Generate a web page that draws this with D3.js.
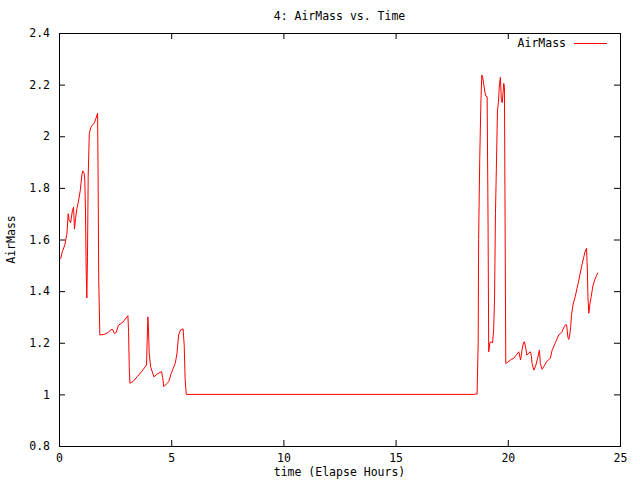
<!DOCTYPE html>
<html>
<head>
<meta charset="utf-8">
<script src="https://d3js.org/d3.v7.min.js"></script>
<style>
  body { margin: 0; background: #fff; }
  svg { font-family: "DejaVu Sans Mono", monospace; font-size: 11.5px; }
  .frame { fill: none; stroke: #000; stroke-width: 1; }
  .line { fill: none; stroke: #ff0000; stroke-width: 1; }
</style>
</head>
<body>
<div id="chart"></div>
<script>
// elapsed hours
var times = [
  0.07, 0.15, 0.26, 0.35, 0.41, 0.45, 0.52, 0.60, 0.65, 0.69, 0.74, 0.80, 0.88, 0.95,
  1.02, 1.06, 1.12, 1.15, 1.18, 1.21, 1.24, 1.27, 1.30, 1.35, 1.42, 1.58, 1.65, 1.72,
  1.74, 1.77, 1.82, 2.00, 2.20, 2.30, 2.38, 2.47, 2.55, 2.65, 2.85, 3.07, 3.10, 3.13,
  3.16, 3.30, 3.50, 3.70, 3.90, 3.93, 3.96, 3.99, 4.02, 4.08, 4.23, 4.40, 4.50, 4.57,
  4.62, 4.67, 4.78, 4.89, 5.00, 5.18, 5.26, 5.33, 5.41, 5.53, 5.58, 5.62, 5.67,
  18.53, 18.58, 18.63, 18.68, 18.70, 18.75, 18.80, 18.84, 18.88, 18.93, 18.98, 19.03,
  19.08, 19.12, 19.15, 19.20, 19.26, 19.32, 19.37, 19.41, 19.45, 19.50, 19.54, 19.58,
  19.63, 19.67, 19.71, 19.75, 19.78, 19.82, 19.85, 19.88, 19.91, 20.00, 20.15, 20.27,
  20.40, 20.49, 20.57, 20.63, 20.70, 20.74, 20.80, 20.85, 20.94, 21.01, 21.05, 21.08,
  21.16, 21.24, 21.33, 21.41, 21.45, 21.53, 21.62, 21.72, 21.82, 21.90, 21.97, 22.12,
  22.27, 22.42, 22.50, 22.57, 22.62, 22.68, 22.72, 22.76, 22.80, 22.84, 22.91, 23.01,
  23.08, 23.16, 23.23, 23.30, 23.38, 23.45, 23.51, 23.55, 23.57, 23.61, 23.66, 23.72,
  23.79, 23.88, 23.95, 24.01
];
var airMass = [
  1.525, 1.553, 1.579, 1.62, 1.70, 1.675, 1.665, 1.714, 1.725, 1.64, 1.682, 1.72, 1.753, 1.792,
  1.85, 1.866, 1.856, 1.83, 1.71, 1.49, 1.373, 1.533, 1.843, 2.01, 2.035, 2.053, 2.07, 2.09,
  1.88, 1.443, 1.23, 1.232, 1.24, 1.25, 1.252, 1.236, 1.24, 1.268, 1.28, 1.305, 1.243, 1.107,
  1.043, 1.05, 1.07, 1.09, 1.114, 1.21, 1.30, 1.25, 1.16, 1.107, 1.068, 1.08, 1.085, 1.088,
  1.065, 1.030, 1.04, 1.049, 1.081, 1.12, 1.16, 1.23, 1.249, 1.254, 1.19, 1.06, 1.0,
  1.0, 1.003, 1.0, 1.198, 1.60, 1.915, 2.128, 2.237, 2.23, 2.20, 2.17, 2.155,
  2.153, 1.664, 1.165, 1.20, 1.203, 1.20, 1.25, 1.373, 1.70, 1.92, 2.10, 2.13,
  2.205, 2.228, 2.143, 2.13, 2.16, 2.205, 2.19, 1.66, 1.120, 1.125, 1.135, 1.14,
  1.155, 1.165, 1.133, 1.17, 1.20, 1.204, 1.18, 1.152, 1.16, 1.165, 1.15, 1.12,
  1.094, 1.11, 1.14, 1.172, 1.12, 1.097, 1.11, 1.125, 1.135, 1.14, 1.17, 1.20,
  1.23, 1.243, 1.26, 1.27, 1.269, 1.22, 1.213, 1.23, 1.26, 1.307, 1.35, 1.38,
  1.41, 1.44, 1.47, 1.50, 1.53, 1.555, 1.566, 1.47, 1.378, 1.314, 1.35, 1.38,
  1.42, 1.445, 1.46, 1.471
];
var xTicks = [0, 5, 10, 15, 20, 25];
var yTicks = [0.8, 1, 1.2, 1.4, 1.6, 1.8, 2, 2.2, 2.4];

var width = 640, height = 480;
var plotLeft = 59, plotRight = 620, plotTop = 33, plotBottom = 446;
var tickLen = 6;

var svg = d3.select("#chart").append("svg")
  .attr("width", width)
  .attr("height", height);

var xScale = d3.scaleLinear().domain([0, 25]).range([plotLeft, plotRight]);
var yScale = d3.scaleLinear().domain([0.8, 2.4]).range([plotBottom, plotTop]);

/* axes: gnuplot-like, ticks inward, mirrored */
var xAxis = d3.axisBottom(xScale).tickValues(xTicks).tickSizeInner(-tickLen).tickSizeOuter(0)
  .tickPadding(8).tickFormat(d3.format("d"));
var yAxis = d3.axisLeft(yScale).tickValues(yTicks).tickSizeInner(-tickLen).tickSizeOuter(0)
  .tickPadding(9).tickFormat(d => d3.format("~g")(d));

var gx = svg.append("g").attr("transform", `translate(0,${plotBottom})`).call(xAxis);
var gy = svg.append("g").attr("transform", `translate(${plotLeft},0)`).call(yAxis);
var gx2 = svg.append("g").attr("transform", `translate(0,${plotTop})`)
  .call(d3.axisTop(xScale).tickValues(xTicks).tickSizeInner(-tickLen).tickSizeOuter(0).tickFormat(""));
var gy2 = svg.append("g").attr("transform", `translate(${plotRight},0)`)
  .call(d3.axisRight(yScale).tickValues(yTicks).tickSizeInner(-tickLen).tickSizeOuter(0).tickFormat(""));

[gx, gy, gx2, gy2].forEach(function(g) {
  g.select(".domain").remove();
  g.attr("font-family", null).attr("font-size", null);
  g.selectAll("line").attr("stroke", "#000");
  g.selectAll("text").attr("fill", "#000");
});

svg.append("rect").attr("class", "frame")
  .attr("x", plotLeft + 0.5).attr("y", plotTop + 0.5)
  .attr("width", plotRight - plotLeft).attr("height", plotBottom - plotTop);

/* data line */
var pts = times.map((t, i) => [t, airMass[i]]);
var line = d3.line().x(d => xScale(d[0])).y(d => yScale(d[1]));
svg.append("path").attr("class", "line").attr("d", line(pts));

/* title and labels */
svg.append("text").attr("x", (plotLeft + plotRight) / 2).attr("y", 20)
  .attr("text-anchor", "middle").text("4: AirMass vs. Time");
svg.append("text").attr("x", (plotLeft + plotRight) / 2).attr("y", 476)
  .attr("text-anchor", "middle").text("time (Elapse Hours)");
svg.append("text").attr("transform", `translate(15,${(plotTop + plotBottom) / 2}) rotate(-90)`)
  .attr("text-anchor", "middle").text("AirMass");

/* legend */
svg.append("text").attr("x", 566).attr("y", 47).attr("text-anchor", "end").text("AirMass");
svg.append("line").attr("x1", 574).attr("x2", 607).attr("y1", 43.5).attr("y2", 43.5)
  .attr("stroke", "#ff0000").attr("stroke-width", 1);
</script>
</body>
</html>
